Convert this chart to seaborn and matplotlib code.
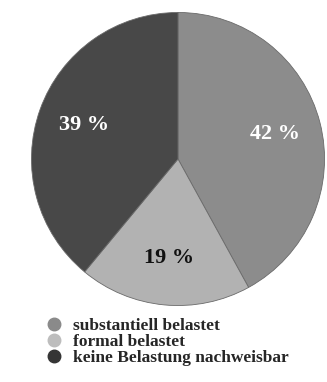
import matplotlib
matplotlib.use("Agg")
import matplotlib.pyplot as plt
from matplotlib.lines import Line2D
import seaborn as sns

# data
categories = ["substantiell belastet", "formal belastet", "keine Belastung nachweisbar"]
shares = [42, 19, 39]
slice_colors = ["#8c8c8c", "#b2b2b2", "#484848"]
legend_colors = ["#8a8a8a", "#bdbdbd", "#353535"]
label_colors = ["white", "#111111", "white"]

sns.set_style("white")
plt.rcParams["font.family"] = ["Liberation Serif", "DejaVu Serif"]

fig = plt.figure(figsize=(3.27, 3.82), dpi=100)
ax = fig.add_axes([30 / 327, 1 - 307 / 382, 296 / 327, 296 / 382])

wedges, texts, autotexts = ax.pie(
    shares,
    colors=slice_colors,
    startangle=90,
    counterclock=False,
    autopct=lambda p: f"{p:.0f} %",
    pctdistance=0.68,
    radius=1.0,
    wedgeprops=dict(edgecolor="#6a6a6a", linewidth=0.6),
)
for t, c in zip(autotexts, label_colors):
    t.set_color(c)
    t.set_fontsize(16)
    t.set_fontweight("bold")

ax.set_xlim(-1.01, 1.01)
ax.set_ylim(-1.01, 1.01)
ax.set_aspect("equal")
ax.axis("off")

handles = [
    Line2D([], [], marker="o", linestyle="none", markersize=9,
           markerfacecolor=c, markeredgecolor=c)
    for c in legend_colors
]
fig.legend(
    handles, categories,
    loc="upper left",
    bbox_to_anchor=(45 / 327, 1 - 318 / 382),
    frameon=False,
    prop=dict(family=["Liberation Serif", "DejaVu Serif"], weight="bold", size=12.5),
    labelspacing=0.0,
    handletextpad=0.6,
    handlelength=1.0,
    borderaxespad=0,
    borderpad=0,
)

fig.savefig("out.png", dpi=100, facecolor="white")
